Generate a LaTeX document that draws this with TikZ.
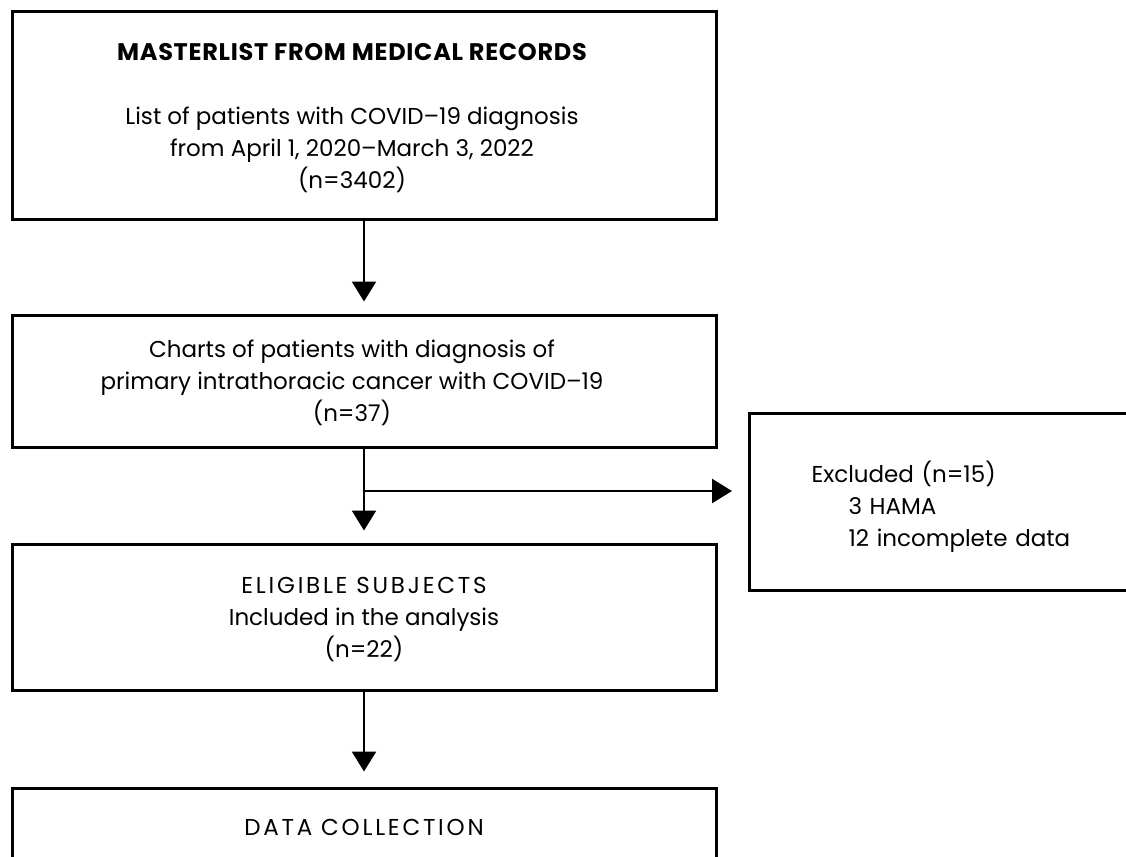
\documentclass[tikz,border=0pt]{standalone}
\usepackage{fontspec}
\setmainfont{Poppins}
\usetikzlibrary{arrows.meta}
\newcommand{\wcaps}[1]{{\addfontfeature{LetterSpace=12}#1}}
\newcommand{\rpad}{\rule{24pt}{0pt}}

\begin{document}
\begin{tikzpicture}
[x=1pt,y=-1pt,
box/.style={rectangle,draw=black,line width=3pt,align=center,inner sep=0pt,
  font=\fontsize{23}{32}\selectfont},
multi/.style={text depth=-3pt},
flow/.style={line width=2.5pt,-{Triangle[width=24pt,length=20pt]}}]
\useasboundingbox (0,0) rectangle (1126,856);
\node at (364,115.5) [box,multi,minimum width=704pt,minimum height=207pt] (master)
  {{\fontsize{24}{32}\selectfont\bfseries\addfontfeature{LetterSpace=3}MASTERLIST FROM MEDICAL RECORDS}\rpad\\[32pt]
   List of patients with COVID--19 diagnosis\rpad\\
   from April 1, 2020--March 3, 2022\rpad\\
   (n=3402)\rpad};
\node at (364,381) [box,multi,minimum width=704pt,minimum height=132pt] (charts)
  {Charts of patients with diagnosis of\rpad\\
   primary intrathoracic cancer with COVID--19\rpad\\
   (n=37)\rpad};
\node at (748,501.5) [box,text height=31pt,anchor=west,align=left,text width=370pt,
  inner xsep=62pt,minimum height=177pt] (excl)
  {Excluded (n=15)\\
   \hspace*{37pt}3 HAMA\\
   \hspace*{37pt}12 incomplete data};
\node at (364,617) [box,multi,minimum width=704pt,minimum height=146pt] (eligible)
  {\wcaps{ELIGIBLE SUBJECTS}\\
   Included in the analysis\\
   (n=22)};
\node at (364,827) [box,minimum width=704pt,minimum height=78pt] (collect)
  {\wcaps{DATA COLLECTION}};
\coordinate (split) at (364,491);
\draw [flow,shorten >=12pt] (master) -- (charts);
\draw [flow,shorten >=12pt] (charts) -- (eligible);
\draw [flow,shorten >=16pt] (split) -- (excl.west |- split);
\draw [flow,shorten >=15pt] (eligible) -- (collect);
\end{tikzpicture}
\end{document}
